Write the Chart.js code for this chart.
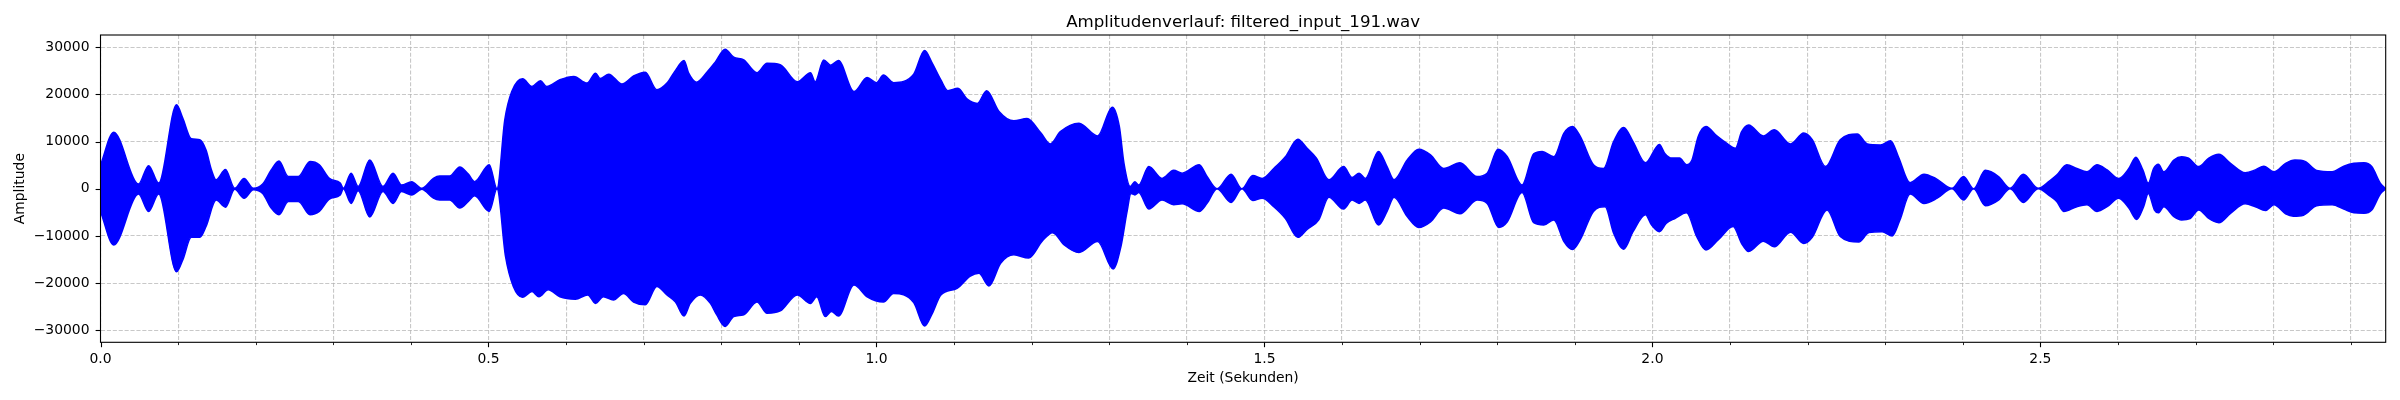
<!DOCTYPE html>
<html>
<head>
<meta charset="utf-8">
<title>Amplitudenverlauf</title>
<script src="https://cdn.jsdelivr.net/npm/chart.js@4.4.1/dist/chart.umd.min.js"></script>
<style>
  html, body { margin: 0; padding: 0; background: #fff; }
  #wrap { width: 2400px; height: 400px; }
</style>
</head>
<body>
<div id="wrap"><canvas id="waveChart" width="2400" height="400"></canvas></div>
<script>
// envelope of the waveform (seconds / amplitude)
const upperTime = [
  0.000, 0.017, 0.049, 0.062, 0.075, 0.098, 0.106, 0.117, 0.128, 0.136, 0.143, 0.149, 0.161, 0.173, 0.185, 0.197,
  0.209, 0.220, 0.230, 0.242, 0.255, 0.270, 0.282, 0.295, 0.309, 0.313, 0.323, 0.332, 0.347, 0.364, 0.377, 0.388,
  0.401, 0.414, 0.429, 0.437, 0.450, 0.463, 0.474, 0.482, 0.501, 0.511, 0.521, 0.530, 0.544, 0.556, 0.567, 0.575,
  0.592, 0.610, 0.627, 0.638, 0.644, 0.655, 0.672, 0.687, 0.702, 0.717, 0.730, 0.741, 0.752, 0.758, 0.768, 0.782,
  0.792, 0.805, 0.816, 0.829, 0.846, 0.859, 0.876, 0.898, 0.915, 0.921, 0.932, 0.941, 0.951, 0.971, 0.988, 1.000, 1.009,
  1.022, 1.048, 1.062, 1.072, 1.083, 1.092, 1.105, 1.117, 1.130, 1.142, 1.158, 1.177, 1.194, 1.212, 1.224, 1.237,
  1.261, 1.285, 1.304, 1.313, 1.319, 1.327, 1.333, 1.338, 1.351, 1.368, 1.383, 1.394, 1.416, 1.426, 1.439, 1.457,
  1.471, 1.485, 1.497, 1.512, 1.527, 1.543, 1.555, 1.567, 1.583, 1.602, 1.613, 1.622, 1.630, 1.647, 1.658, 1.667,
  1.684, 1.699, 1.714, 1.731, 1.752, 1.774, 1.787, 1.801, 1.813, 1.832, 1.847, 1.858, 1.873, 1.886, 1.897, 1.907,
  1.924, 1.937, 1.950, 1.963, 1.975, 1.991, 2.009, 2.016, 2.025, 2.035, 2.044, 2.051, 2.059, 2.069, 2.083, 2.096,
  2.107, 2.115, 2.124, 2.143, 2.157, 2.178, 2.195, 2.206, 2.223, 2.242, 2.264, 2.277, 2.294, 2.307, 2.317, 2.332,
  2.350, 2.365, 2.386, 2.401, 2.414, 2.429, 2.446, 2.461, 2.478, 2.497, 2.512, 2.521, 2.534, 2.547, 2.560, 2.573,
  2.586, 2.601, 2.614, 2.623, 2.632, 2.639, 2.646, 2.652, 2.659, 2.672, 2.682, 2.691, 2.704, 2.717, 2.730, 2.745,
  2.764, 2.777, 2.788, 2.801, 2.816, 2.828, 2.841, 2.856, 2.876, 2.891, 2.904, 2.917, 2.927, 2.938, 2.945
];
const upperAmp = [
  5000, 12000, 1000, 4900, 1200, 17800, 15000, 10600, 10400, 8200, 4000, 1900, 4100, 100, 2200, 100,
  1000, 4000, 5900, 2600, 2600, 5800, 5100, 2200, 1200, 100, 3300, 500, 6100, 500, 3300, 800,
  1500, 100, 2200, 2700, 2700, 4600, 3100, 1500, 5100, 0, 14600, 20600, 23300, 21700, 22900, 21700,
  23100, 23800, 22400, 24500, 23400, 24300, 22200, 23900, 24700, 21000, 22400, 25100, 27200, 24500, 22600, 24800,
  26800, 29600, 27900, 27300, 24600, 26600, 26300, 22700, 24600, 22700, 27300, 26200, 27200, 20600, 23600, 22500, 24100,
  22500, 24300, 29300, 26600, 23100, 20800, 21300, 19000, 18100, 20800, 16400, 14400, 14900, 11800, 9500, 12100,
  13900, 11200, 17300, 13200, 5400, 500, 1500, 800, 4700, 2200, 3900, 3300, 5100, 2600, 0, 3100,
  0, 2800, 2200, 4300, 6800, 10500, 8600, 6500, 1900, 4700, 2400, 3300, 2200, 7900, 4700, 1900,
  6100, 8400, 7200, 4300, 5500, 2600, 3300, 8400, 6800, 800, 7400, 7900, 6800, 11800, 13200, 11100,
  5100, 4300, 10000, 13000, 10000, 5500, 9400, 7500, 6500, 6500, 5100, 6100, 11100, 13200, 11200, 9600,
  8600, 12100, 13500, 11200, 12500, 9500, 11800, 10400, 4700, 10400, 11600, 9500, 9300, 10200, 6800, 1300,
  3100, 2200, 100, 2600, 0, 3900, 2600, 100, 3100, 100, 1700, 2900, 5100, 4300, 3600, 5100,
  4000, 2200, 4300, 6700, 4000, 1200, 4300, 5200, 3600, 6100, 6800, 6500, 4700, 6500, 7300, 5400,
  3400, 4000, 4800, 3600, 5400, 6100, 5800, 3900, 3600, 4800, 5400, 5500, 4700, 1200, 0
];
const lowerTime = [
  0.000, 0.017, 0.049, 0.062, 0.075, 0.098, 0.106, 0.117, 0.128, 0.136, 0.149, 0.161, 0.173, 0.185, 0.197, 0.209,
  0.220, 0.230, 0.242, 0.255, 0.270, 0.282, 0.295, 0.309, 0.313, 0.323, 0.332, 0.347, 0.364, 0.377, 0.388, 0.401,
  0.414, 0.429, 0.437, 0.450, 0.463, 0.474, 0.482, 0.501, 0.511, 0.522, 0.532, 0.544, 0.556, 0.565, 0.577, 0.592,
  0.612, 0.628, 0.638, 0.648, 0.661, 0.674, 0.687, 0.702, 0.717, 0.730, 0.741, 0.752, 0.760, 0.773, 0.786, 0.794,
  0.805, 0.816, 0.829, 0.846, 0.859, 0.876, 0.898, 0.915, 0.923, 0.934, 0.942, 0.951, 0.971, 0.988, 1.009, 1.022, 1.048,
  1.062, 1.072, 1.083, 1.104, 1.121, 1.132, 1.145, 1.160, 1.177, 1.196, 1.214, 1.227, 1.242, 1.261, 1.285, 1.305,
  1.315, 1.323, 1.328, 1.333, 1.338, 1.351, 1.368, 1.383, 1.394, 1.416, 1.426, 1.439, 1.457, 1.471, 1.485, 1.497,
  1.512, 1.527, 1.543, 1.555, 1.570, 1.583, 1.602, 1.613, 1.622, 1.630, 1.647, 1.658, 1.667, 1.684, 1.699, 1.714,
  1.731, 1.752, 1.774, 1.787, 1.802, 1.813, 1.832, 1.847, 1.860, 1.873, 1.886, 1.897, 1.907, 1.924, 1.939, 1.950,
  1.963, 1.975, 1.991, 1.999, 2.009, 2.018, 2.029, 2.044, 2.057, 2.069, 2.085, 2.104, 2.115, 2.124, 2.143, 2.157,
  2.178, 2.195, 2.206, 2.225, 2.242, 2.266, 2.279, 2.296, 2.309, 2.319, 2.332, 2.350, 2.367, 2.386, 2.401, 2.414,
  2.429, 2.446, 2.461, 2.478, 2.497, 2.512, 2.521, 2.530, 2.547, 2.560, 2.573, 2.586, 2.601, 2.614, 2.624, 2.633,
  2.639, 2.647, 2.652, 2.659, 2.672, 2.682, 2.693, 2.704, 2.717, 2.730, 2.745, 2.764, 2.777, 2.790, 2.801, 2.816,
  2.826, 2.839, 2.856, 2.876, 2.891, 2.904, 2.917, 2.927, 2.938, 2.945
];
const lowerAmp = [
  -4800, -11900, -1100, -4800, -1100, -17600, -15100, -10300, -10300, -8000, -2400, -3900, -100, -2000, -200, -1000,
  -4100, -5500, -2700, -2700, -5500, -4800, -2200, -1300, 0, -3100, -400, -6000, -600, -3100, -600, -1300,
  -100, -2000, -2400, -2400, -4100, -2700, -1500, -4800, 0, -14400, -20700, -23000, -21800, -22900, -21400, -22900,
  -23400, -22500, -24300, -22900, -23600, -22200, -24000, -24600, -20700, -22500, -24000, -27000, -24300, -22500, -24300, -26700,
  -29200, -27100, -26700, -24000, -26400, -25900, -22500, -24300, -22900, -27100, -26000, -27000, -20400, -22900, -24000, -22200, -24100,
  -29100, -26400, -22500, -21100, -18500, -17900, -20600, -15800, -14000, -14700, -11000, -9300, -11900, -13500, -11200, -17000,
  -12300, -4800, -1000, -1300, -800, -4300, -2400, -3400, -3200, -4800, -3100, 0, -2900, 0, -2500, -2000,
  -3800, -6300, -10300, -8600, -6600, -1800, -4300, -2400, -3100, -2400, -7700, -4800, -1800, -5900, -8200, -7000,
  -4100, -5300, -2400, -3100, -8200, -7000, -800, -7200, -7700, -6600, -11200, -12900, -10800, -4800, -3800, -9400,
  -12800, -9100, -5500, -7700, -9100, -7300, -6300, -5100, -10100, -13000, -10800, -8000, -11600, -13300, -11100, -12300,
  -9200, -11600, -10300, -4500, -10100, -11300, -9300, -9100, -10000, -6600, -1100, -3100, -2000, 0, -2400, 0,
  -3600, -2400, 0, -2900, 0, -1500, -2700, -4800, -3800, -3400, -4800, -3800, -2000, -4100, -6500, -3800,
  -1000, -4500, -5100, -3800, -5900, -6600, -6300, -4500, -6300, -7200, -5200, -3200, -3800, -4600, -3400, -5300,
  -5800, -5600, -3600, -3400, -4300, -5100, -5200, -4500, -1100, 0
];

// axes
const xGridTicks = [0.0, 0.1, 0.2, 0.3, 0.4, 0.5, 0.6, 0.7, 0.8, 0.9, 1.0, 1.1, 1.2, 1.3, 1.4,
                    1.5, 1.6, 1.7, 1.8, 1.9, 2.0, 2.1, 2.2, 2.3, 2.4, 2.5, 2.6, 2.7, 2.8, 2.9];
const xLabelTicks = [0.0, 0.5, 1.0, 1.5, 2.0, 2.5];
const yTicks = [-30000, -20000, -10000, 0, 10000, 20000, 30000];
const xRange = [0, 2.945];
const yRange = [-32550, 32600];

const FONT = "'DejaVu Sans', 'Liberation Sans', sans-serif";
const WAVE_BLUE = '#0000ff';
const GRID_GREY = 'rgba(176,176,176,0.7)';

const isMajor = v => xLabelTicks.some(m => Math.abs(m - v) < 1e-9);

// matplotlib-style box and tick marks (outside the plot area)
const frameAndTicks = {
    id: 'frameAndTicks',
    afterDraw(chart) {
        const { ctx, chartArea: a, scales: { x, y } } = chart;
        ctx.save();
        ctx.setLineDash([]);
        ctx.strokeStyle = '#000';
        xGridTicks.forEach(v => {
            const px = Math.round(x.getPixelForValue(v)) + 0.5;
            const major = isMajor(v);
            ctx.lineWidth = major ? 1.1 : 0.85;
            ctx.beginPath();
            ctx.moveTo(px, a.bottom);
            ctx.lineTo(px, a.bottom + (major ? 4.9 : 2.8));
            ctx.stroke();
        });
        ctx.lineWidth = 1.1;
        yTicks.forEach(v => {
            const py = Math.round(y.getPixelForValue(v)) + 0.5;
            ctx.beginPath();
            ctx.moveTo(a.left, py);
            ctx.lineTo(a.left - 4.9, py);
            ctx.stroke();
        });
        ctx.strokeRect(a.left, a.top, a.right - a.left, a.bottom - a.top);
        ctx.restore();
    }
};

const toPoints = (ts, vs) => ts.map((t, i) => ({ x: t, y: vs[i] }));

const waveDataset = (label, ts, vs, fill) => ({
    label,
    data: toPoints(ts, vs),
    borderColor: WAVE_BLUE,
    backgroundColor: WAVE_BLUE,
    borderWidth: 1.5,
    pointRadius: 0,
    cubicInterpolationMode: 'monotone',
    fill,
});

new Chart(document.getElementById('waveChart'), {
    type: 'line',
    data: {
        datasets: [
            waveDataset('upper', upperTime, upperAmp, false),
            // one filled band between both envelopes, so no seam shows at zero
            waveDataset('lower', lowerTime, lowerAmp, '-1'),
        ],
    },
    options: {
        responsive: false,
        devicePixelRatio: 1,
        animation: false,
        layout: { padding: { left: 0, right: 14.3, top: 0, bottom: 0 } },
        plugins: {
            legend: { display: false },
            tooltip: { enabled: false },
            title: {
                display: true,
                text: 'Amplitudenverlauf: filtered_input_191.wav',
                fullSize: false,
                color: '#000',
                font: { family: FONT, size: 16.67, weight: 'normal' },
                padding: { top: 12.3, bottom: 2.7 },
            },
        },
        scales: {
            x: {
                type: 'linear',
                min: xRange[0],
                max: xRange[1],
                afterBuildTicks: scale => { scale.ticks = xGridTicks.map(v => ({ value: v })); },
                afterFit: scale => { scale.height = 57.7; },
                ticks: {
                    autoSkip: false,
                    maxRotation: 0,
                    padding: 9,
                    color: '#000',
                    font: { family: FONT, size: 13.9 },
                    callback: v => (isMajor(v) ? v.toFixed(1) : ''),
                },
                grid: { color: GRID_GREY, lineWidth: 1.1, drawTicks: false },
                border: { display: false, dash: [4.1, 1.8] },
                title: {
                    display: true,
                    text: 'Zeit (Sekunden)',
                    color: '#000',
                    font: { family: FONT, size: 13.9 },
                    padding: { top: 0, bottom: 12.8 },
                },
            },
            y: {
                min: yRange[0],
                max: yRange[1],
                afterBuildTicks: scale => { scale.ticks = yTicks.map(v => ({ value: v })); },
                afterFit: scale => { scale.width = 100.5; },
                ticks: {
                    padding: 11,
                    color: '#000',
                    font: { family: FONT, size: 13.9 },
                    callback: v => String(v).replace('-', '\u2212'),
                },
                grid: { color: GRID_GREY, lineWidth: 1.1, drawTicks: false },
                border: { display: false, dash: [4.1, 1.8] },
                title: {
                    display: true,
                    text: 'Amplitude',
                    color: '#000',
                    font: { family: FONT, size: 13.9 },
                    padding: { top: 12, bottom: 0 },
                },
            },
        },
    },
    plugins: [frameAndTicks],
});
</script>
</body>
</html>
